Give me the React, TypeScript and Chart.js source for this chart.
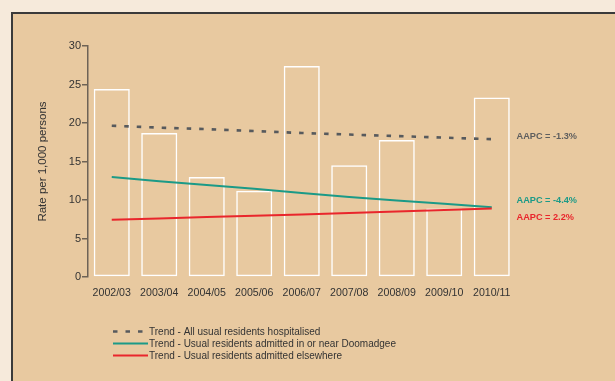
import React, { useEffect, useRef } from "react";
import { Chart, registerables } from "chart.js";

Chart.register(...registerables);

// ---- Data ----
const categories = [
  "2002/03", "2003/04", "2004/05", "2005/06", "2006/07",
  "2007/08", "2008/09", "2009/10", "2010/11",
];
const allResidentsRate = [24.4, 18.7, 13.0, 11.2, 27.4, 14.5, 17.8, 8.9, 23.3];
const trendAll = [19.65, 19.4, 19.2, 18.95, 18.7, 18.5, 18.3, 18.1, 17.9];
const trendDoomadgee = [13.0, 12.45, 11.95, 11.45, 10.9, 10.4, 9.95, 9.5, 9.05];
const trendElsewhere = [7.45, 7.6, 7.78, 7.95, 8.12, 8.3, 8.5, 8.7, 8.9];
const trendNames = [
  "Trend - All usual residents hospitalised",
  "Trend - Usual residents admitted in or near Doomadgee",
  "Trend - Usual residents admitted elsewhere",
];
const aapcLabels = ["AAPC = -1.3%", "AAPC = -4.4%", "AAPC = 2.2%"];
const aapcValues = [18.2, 9.9, 7.7];
const yMin = 0;
const yMax = 30;
const yStep = 5;
const yTitle = "Rate per 1,000 persons";

// ---- Styles ----
const FONT = "'Liberation Sans', Arial, Helvetica, sans-serif";
const GRAY = "#575a5d";
const TEAL = "#1b9a87";
const RED = "#e9262c";
const AXIS = "#6e6356";
const TEXT = "#333333";

const seriesStyles = [
  { color: GRAY, dash: [4.5, 8], width: 2.6 },
  { color: TEAL, dash: [] as number[], width: 2 },
  { color: RED, dash: [] as number[], width: 2 },
];
const labelColors = ["#5e5e5e", TEAL, RED];

const overlayPlugin = {
  id: "overlay",
  afterDraw(chart: any) {
    const { ctx, chartArea, scales } = chart;
    const y = scales.y;
    ctx.save();
    // AAPC labels
    ctx.font = `bold 9.2px ${FONT}`;
    ctx.textAlign = "left";
    ctx.textBaseline = "middle";
    aapcLabels.forEach((t, i) => {
      ctx.fillStyle = labelColors[i];
      ctx.fillText(t, chartArea.right + 1, y.getPixelForValue(aapcValues[i]));
    });
    // Legend
    const lx = chartArea.left + 25;
    const ly = chartArea.bottom + 54.5;
    ctx.font = `10px ${FONT}`;
    trendNames.forEach((name, i) => {
      const st = seriesStyles[i];
      const yy = ly + i * 12;
      ctx.beginPath();
      ctx.setLineDash(st.dash);
      ctx.strokeStyle = st.color;
      ctx.lineWidth = st.width;
      ctx.moveTo(lx, yy);
      ctx.lineTo(lx + 35, yy);
      ctx.stroke();
      ctx.setLineDash([]);
      ctx.fillStyle = TEXT;
      ctx.fillText(name, lx + 36, yy + 0.5);
    });
    ctx.restore();
  },
};

export default function App() {
  const ref = useRef<HTMLCanvasElement | null>(null);

  useEffect(() => {
    if (!ref.current) return;
    const trends = [trendAll, trendDoomadgee, trendElsewhere];
    const lineSets = trends.map((d, i) => ({
      type: "line" as const,
      label: trendNames[i],
      data: d,
      borderColor: seriesStyles[i].color,
      borderWidth: seriesStyles[i].width,
      borderDash: seriesStyles[i].dash,
      pointRadius: 0,
      tension: 0,
      fill: false,
      order: 2 - i,
    }));
    const chart = new Chart(ref.current, {
      type: "bar",
      data: {
        labels: categories,
        datasets: [
          ...lineSets,
          {
            type: "bar" as const,
            label: "Rate",
            data: allResidentsRate,
            backgroundColor: "rgba(0,0,0,0)",
            borderColor: "#ffffff",
            borderWidth: 1.5,
            borderSkipped: false,
            barPercentage: 0.76,
            categoryPercentage: 1,
            order: 10,
          },
        ],
      } as any,
      options: {
        responsive: false,
        animation: false,
        devicePixelRatio: 1,
        layout: { padding: { left: 0, top: 46, right: 99.5, bottom: 74 } },
        plugins: {
          legend: { display: false },
          tooltip: { enabled: false },
        },
        scales: {
          x: {
            grid: { display: false, drawTicks: false },
            border: { display: false },
            ticks: {
              color: TEXT,
              font: { family: FONT, size: 10.6 },
              padding: 10,
              maxRotation: 0,
              autoSkip: false,
            },
            afterFit: (s: any) => {
              s.height = 30;
            },
          },
          y: {
            min: yMin,
            max: yMax,
            border: { display: true, color: AXIS, width: 1.5 },
            grid: {
              drawOnChartArea: false,
              drawTicks: true,
              tickLength: 6,
              color: AXIS,
              lineWidth: 1.5,
            },
            ticks: {
              stepSize: yStep,
              color: TEXT,
              font: { family: FONT, size: 11 },
              padding: 1,
            },
            title: {
              display: true,
              text: yTitle,
              color: TEXT,
              font: { family: FONT, size: 11.5 },
              padding: { top: 36, bottom: 0 },
            },
            afterFit: (s: any) => {
              s.width = 88;
            },
          },
        },
      },
      plugins: [overlayPlugin],
    });
    return () => chart.destroy();
  }, []);

  return (
    <div
      style={{
        position: "fixed",
        left: 0,
        top: 0,
        width: 615,
        height: 381,
        overflow: "hidden",
        background: "#f6eadb",
      }}
    >
      <div
        style={{
          position: "absolute",
          left: 11,
          top: 12,
          width: 700,
          height: 500,
          background: "#e8c9a0",
          borderLeft: "2px solid #3a3a3a",
          borderTop: "2px solid #3a3a3a",
        }}
      />
      <canvas
        ref={ref}
        width={615}
        height={381}
        style={{ position: "absolute", left: 0, top: 0, width: 615, height: 381 }}
      />
    </div>
  );
}
